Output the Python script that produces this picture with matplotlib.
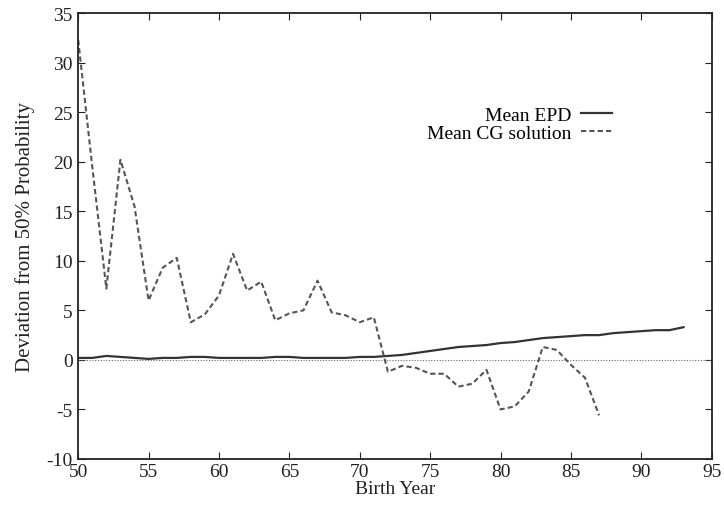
import matplotlib.pyplot as plt
import numpy as np

plt.rcParams['font.family'] = ['Liberation Serif', 'DejaVu Serif']
plt.rcParams['axes.unicode_minus'] = False

# birth years and series values
years_epd = np.arange(50, 94)
mean_epd = [0.2, 0.2, 0.4, 0.3, 0.2, 0.1, 0.2, 0.2, 0.3, 0.3,
            0.2, 0.2, 0.2, 0.2, 0.3, 0.3, 0.2, 0.2, 0.2, 0.2,
            0.3, 0.3, 0.4, 0.5, 0.7, 0.9, 1.1, 1.3, 1.4, 1.5,
            1.7, 1.8, 2.0, 2.2, 2.3, 2.4, 2.5, 2.5, 2.7, 2.8,
            2.9, 3.0, 3.0, 3.3]

years_cg = np.arange(50, 88)
mean_cg = [32.3, 19.5, 7.2, 20.2, 15.5, 6.0, 9.3, 10.3, 3.8, 4.6,
           6.5, 10.7, 7.0, 7.9, 4.0, 4.7, 5.0, 8.0, 4.8, 4.5,
           3.8, 4.3, -1.2, -0.6, -0.8, -1.4, -1.4, -2.7, -2.4, -1.0,
           -5.0, -4.7, -3.2, 1.3, 1.0, -0.5, -1.8, -5.6]

xticks = np.arange(50, 96, 5)
yticks = np.arange(-10, 36, 5)

fig = plt.figure(figsize=(7.24, 5.06), dpi=100)
ax = fig.add_axes([0.108, 0.091, 0.875, 0.881])

ax.axhline(0, color='#666666', lw=0.8, ls=(0, (1, 1.5)))
ax.plot(years_epd, mean_epd, color='#333333', lw=1.6, label='Mean EPD')
ax.plot(years_cg, mean_cg, color='#555555', lw=1.5, ls=(0, (2.5, 1.5)),
        label='Mean CG solution')

ax.set_xlim(50, 95)
ax.set_ylim(-10, 35)
ax.set_xticks(xticks)
ax.set_yticks(yticks)
ax.tick_params(direction='in', top=True, right=True, length=5,
               labelsize=14, colors='#222222')
ax.tick_params(axis='x', pad=3)
ax.tick_params(axis='y', pad=4)
for s in ax.spines.values():
    s.set_linewidth(1.3)
    s.set_color('#222222')

ax.set_xlabel('Birth Year', fontsize=14, labelpad=0, color='#222222')
ax.set_ylabel('Deviation from 50% Probability', fontsize=15,
              labelpad=8, color='#222222')

ax.legend(loc='upper right', bbox_to_anchor=(0.87, 0.83), frameon=False,
          markerfirst=False, fontsize=14, handlelength=1.6,
          labelspacing=0.0, handletextpad=0.5, alignment='right')

fig.savefig('out.png', dpi=100)
